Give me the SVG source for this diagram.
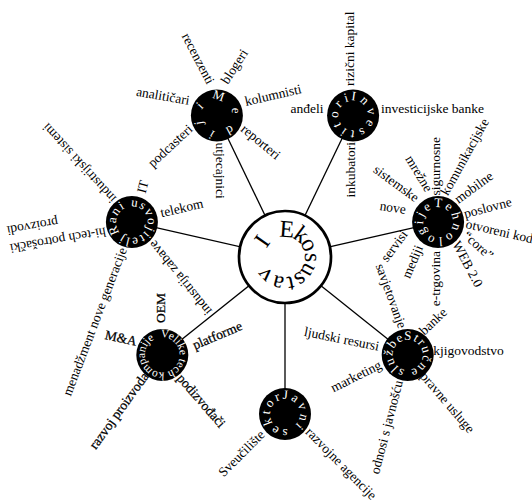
<svg xmlns="http://www.w3.org/2000/svg" xmlns:xlink="http://www.w3.org/1999/xlink" width="532" height="500" viewBox="0 0 532 500">
<style>
text{font-family:"Liberation Serif","Times New Roman",serif;fill:#000}
.lb{font-size:13.5px}
.bd{stroke:#000;stroke-width:0.25px}
.ct{font-size:13px;fill:#fff}
.node{fill:#000}
.con{stroke:#000;stroke-width:1.3;fill:none}
</style>
<defs>
<path id="pMed" d="M211.26,101.6 A15,15 0 0 1 222.54,129.4 A15,15 0 0 1 211.26,101.6"/>
<path id="pInv" d="M350.93,100.66 A15,15 0 0 1 355.27,130.34 A15,15 0 0 1 350.93,100.66"/>
<path id="pTeh" d="M434.17,207.62 A15,15 0 0 1 442.03,236.58 A15,15 0 0 1 434.17,207.62"/>
<path id="pStr" d="M404.12,340.33 A15,15 0 0 1 411.28,369.47 A15,15 0 0 1 404.12,340.33"/>
<path id="pJav" d="M282.47,399.21 A15,15 0 0 1 287.53,428.79 A15,15 0 0 1 282.47,399.21"/>
<path id="pRan" d="M119.92,232.7 A16,16 0 0 1 143.88,211.5 A16,16 0 0 1 119.92,232.7"/>
<path id="pVel" d="M160.59,337.48 A17.5,17.5 0 0 1 164.01,372.32 A17.5,17.5 0 0 1 160.59,337.48"/>
</defs>
<g id="connectors">
<line class="con" x1="285" y1="257" x2="216.9" y2="115.5"/>
<line class="con" x1="285" y1="257" x2="353.1" y2="115.5"/>
<line class="con" x1="285" y1="257" x2="438.1" y2="222.1"/>
<line class="con" x1="285" y1="257" x2="407.7" y2="354.9"/>
<line class="con" x1="285" y1="257" x2="285" y2="414"/>
<line class="con" x1="285" y1="257" x2="162.3" y2="354.9"/>
<line class="con" x1="285" y1="257" x2="131.9" y2="222.1"/>
</g>
<g id="center">
<circle cx="285" cy="257" r="46" fill="#fff" stroke="#000" stroke-width="2.7"/>
<text style="font-size:24px" x="279.08 291.9 300.1 305.08 305.4 300.3 292.42 284.97 274.15 265.34 266.32" y="236.54 237.29 242.57 252.68 261.45 270.71 275.87 277.7 274.84 261.73 248.8" rotate="4 36 63 91 119 145 168 195 228 265 305">Ekosustav I</text>
</g>
<g id="mediji">
<circle class="node" cx="216.9" cy="115.5" r="26"/>
<text class="ct" style="letter-spacing:9.93px"><textPath xlink:href="#pMed" href="#pMed">Mediji</textPath></text>
<text class="lb" dy="0.3em" text-anchor="end" transform="translate(210.7,83.3) rotate(62.5)">recenzenti</text>
<text class="lb" dy="0.3em" transform="translate(224.3,82.7) rotate(-57)">blogeri</text>
<text class="lb" dy="0.3em" transform="translate(245,102) rotate(-13)">kolumnisti</text>
<text class="lb" dy="0.3em" transform="translate(242.7,127.3) rotate(39.6)">reporteri</text>
<text class="lb" dy="0.3em" transform="translate(220.5,142.5) rotate(90)">utjecajnici</text>
<text class="lb" dy="0.3em" text-anchor="end" transform="translate(190.7,127.3) rotate(-43)">podcasteri</text>
<text class="lb" dy="0.3em" text-anchor="end" transform="translate(189.5,101) rotate(10)">analitičari</text>
</g>
<g id="investitori">
<circle class="node" cx="353.1" cy="115.5" r="26"/>
<text class="ct" style="letter-spacing:3.71px"><textPath xlink:href="#pInv" href="#pInv">Investitori</textPath></text>
<text class="lb" dy="0.3em" transform="translate(349.5,86) rotate(-90)">rizični kapital</text>
<text class="lb" dy="0.3em" transform="translate(381,109)">investicijske banke</text>
<text class="lb" dy="0.3em" text-anchor="end" transform="translate(350.5,142) rotate(-90)">inkubatori</text>
<text class="lb" dy="0.3em" text-anchor="end" transform="translate(323.5,109)">anđeli</text>
</g>
<g id="tehnologije">
<circle class="node" cx="438.1" cy="222.1" r="26"/>
<text class="ct" style="letter-spacing:2.86px"><textPath xlink:href="#pTeh" href="#pTeh">Tehnologije</textPath></text>
<text class="lb" dy="0.3em" text-anchor="end" transform="translate(405.7,210) rotate(8.8)">nove</text>
<text class="lb" dy="0.3em" text-anchor="end" transform="translate(417.3,199.3) rotate(36.3)">sistemske</text>
<text class="lb" dy="0.3em" text-anchor="end" transform="translate(429,190.7) rotate(59)">mrežne</text>
<text class="lb" dy="0.3em" transform="translate(436,195.5) rotate(-90)">sigurnosne</text>
<text class="lb" dy="0.3em" transform="translate(444.3,194.3) rotate(-61)">komunikacijske</text>
<text class="lb" dy="0.3em" transform="translate(456,200.7) rotate(-36)">mobilne</text>
<text class="lb" dy="0.3em" transform="translate(464.3,214.3) rotate(-15)">poslovne</text>
<text class="lb" dy="0.3em" transform="translate(466,224) rotate(13)">otvoreni kod</text>
<text class="lb" dy="0.3em" transform="translate(465,234) rotate(42)">“core”</text>
<text class="lb" dy="0.3em" transform="translate(455.5,242) rotate(62)">WEB 2.0</text>
<text class="lb" dy="0.3em" text-anchor="end" transform="translate(436,251) rotate(-90)">e-trgovina</text>
<text class="lb" dy="0.3em" text-anchor="end" transform="translate(419.5,246) rotate(-67)">mediji</text>
<text class="lb" dy="0.3em" text-anchor="end" transform="translate(405,232) rotate(-53.5)">servisi</text>
</g>
<g id="rani-usvojitelji">
<circle class="node" cx="131.9" cy="222.1" r="26"/>
<text class="ct" style="letter-spacing:1.35px"><textPath xlink:href="#pRan" href="#pRan">Rani usvojitelji</textPath></text>
<text class="lb" dy="0.3em" transform="translate(141.5,193) rotate(-75)">IT</text>
<text class="lb" dy="0.3em" transform="translate(160.7,213.3) rotate(-13)">telekom</text>
<text class="lb" dy="0.3em" text-anchor="end" transform="translate(151.5,242) rotate(-129)">industrija zabave</text>
<text class="lb" dy="0.3em" text-anchor="end" transform="translate(123.3,248.3) rotate(-69)">menadžment nove generacije</text>
<text class="lb" text-anchor="end" transform="translate(10,248.3) rotate(170)"><tspan x="0" dy="0.3em">hi-tech potrošački</tspan><tspan x="0" dy="18">proizvodi</tspan></text>
<text class="lb" dy="0.3em" transform="translate(114,200.7) rotate(-132.4)">industrijski sistemi</text>
</g>
<g id="velike-tech-kompanije">
<circle class="node" cx="162.3" cy="354.9" r="26"/>
<text class="ct" style="font-size:11.5px"><textPath xlink:href="#pVel" href="#pVel">Velike tech kompanije</textPath></text>
<text class="lb bd" dy="0.3em" transform="translate(160.5,323) rotate(-90)">OEM</text>
<text class="lb bd" dy="0.3em" transform="translate(193.3,346) rotate(-23)">platforme</text>
<text class="lb bd" dy="0.3em" transform="translate(179.3,376) rotate(49)">podizvođači</text>
<text class="lb bd" dy="0.3em" text-anchor="end" transform="translate(146,374) rotate(-54)">razvoj proizvoda</text>
<text class="lb bd" dy="0.3em" text-anchor="end" transform="translate(136.7,341.7) rotate(12)">M&amp;A</text>
</g>
<g id="strucne-sluzbe">
<circle class="node" cx="407.7" cy="354.9" r="26"/>
<text class="ct" style="letter-spacing:1.29px"><textPath xlink:href="#pStr" href="#pStr">Stručne službe</textPath></text>
<text class="lb" dy="0.3em" text-anchor="end" transform="translate(402.3,327.7) rotate(70)">savjetovanje</text>
<text class="lb" dy="0.3em" transform="translate(421.7,332.7) rotate(-43.6)">banke</text>
<text class="lb" dy="0.3em" transform="translate(433.3,350.7)">kjigovodstvo</text>
<text class="lb" dy="0.3em" transform="translate(422.7,374) rotate(49.5)">pravne usluge</text>
<text class="lb" dy="0.3em" text-anchor="end" transform="translate(399,380.7) rotate(-75.5)">odnosi s javnošću</text>
<text class="lb" dy="0.3em" text-anchor="end" transform="translate(380.7,364.3) rotate(-26.6)">marketing</text>
<text class="lb" dy="0.3em" text-anchor="end" transform="translate(379,346.7) rotate(11.3)">ljudski resursi</text>
</g>
<g id="javni-sektor">
<circle class="node" cx="285" cy="414" r="26"/>
<text class="ct" style="letter-spacing:2.65px"><textPath xlink:href="#pJav" href="#pJav">Javni sektor</textPath></text>
<text class="lb" dy="0.3em" text-anchor="end" transform="translate(262.7,432.7) rotate(-45)">Sveučilište</text>
<text class="lb" dy="0.3em" transform="translate(307.7,430) rotate(45.5)">razvojne agencije</text>
</g>
</svg>
